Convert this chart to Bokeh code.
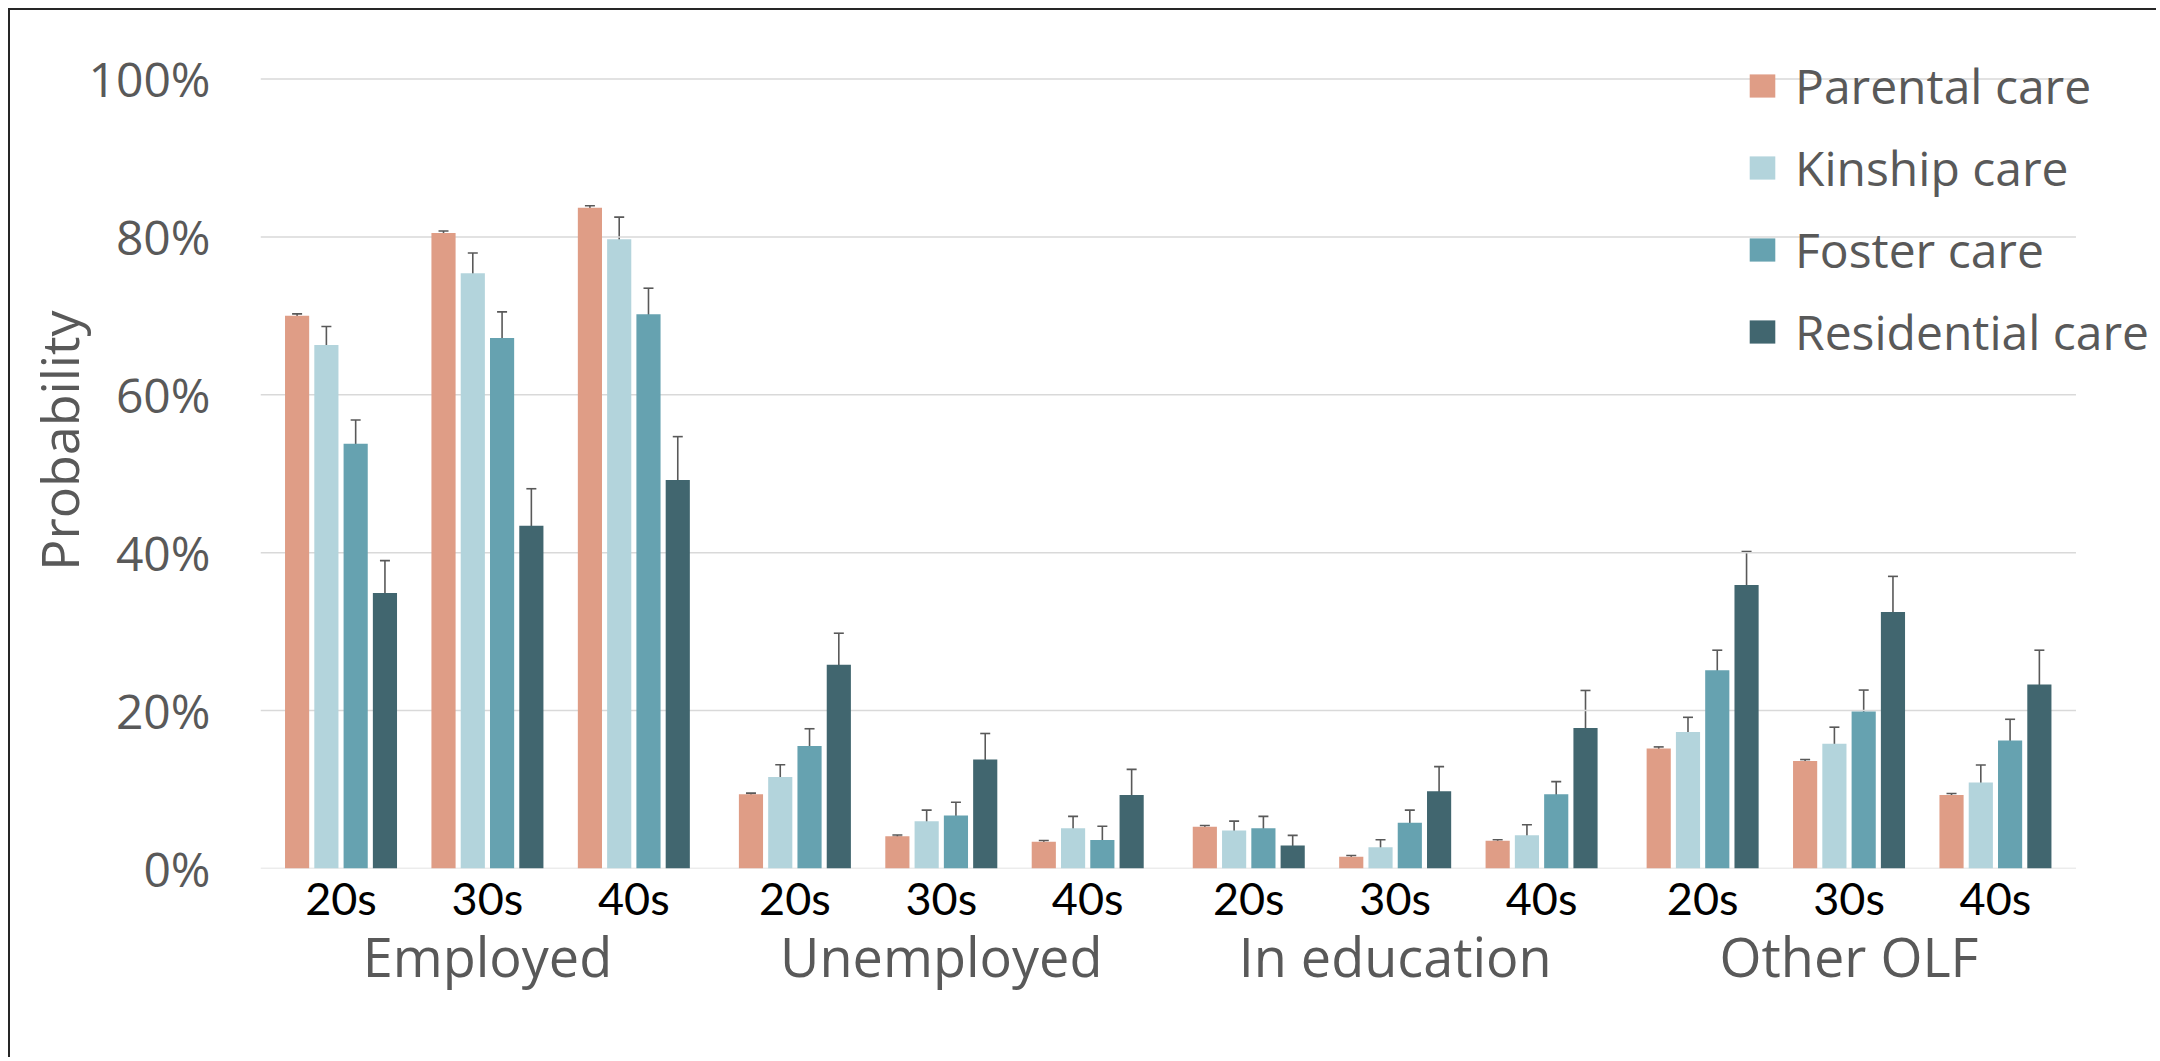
from bokeh.plotting import figure
from bokeh.models import (Range1d, FixedTicker, Legend, LegendItem, LinearAxis,
                          Whisker, TeeHead, ColumnDataSource, Title, PrintfTickFormatter)
from bokeh.transform import dodge
from bokeh.embed import file_html
from bokeh.resources import INLINE

# Labour-market status by age band, for each type of childhood care
statuses = ["Employed", "Unemployed", "In education", "Other OLF"]
ages = ["20s", "30s", "40s"]
care_types = ["Parental care", "Kinship care", "Foster care", "Residential care"]
colors = ["#df9d86", "#b3d4dc", "#66a2b0", "#41666f"]

# Probabilities (%) in order Employed 20s..40s, Unemployed, In education, Other OLF
parental = [70.0, 80.5, 83.7, 9.4, 4.1, 3.4, 5.3, 1.5, 3.5, 15.2, 13.6, 9.3]
kinship = [66.3, 75.4, 79.7, 11.6, 6.0, 5.1, 4.8, 2.7, 4.2, 17.3, 15.8, 10.9]
foster = [53.8, 67.2, 70.2, 15.5, 6.7, 3.6, 5.1, 5.8, 9.4, 25.1, 19.9, 16.2]
residential = [34.9, 43.4, 49.2, 25.8, 13.8, 9.3, 2.9, 9.8, 17.8, 35.9, 32.5, 23.3]

# Half-widths of the confidence intervals (%)
parental_err = [0.25, 0.25, 0.25, 0.15, 0.15, 0.15, 0.15, 0.15, 0.15, 0.2, 0.2, 0.2]
kinship_err = [2.35, 2.55, 2.8, 1.55, 1.4, 1.5, 1.2, 0.95, 1.35, 1.85, 2.1, 2.2]
foster_err = [3.0, 3.3, 3.3, 2.2, 1.7, 1.75, 1.5, 1.6, 1.6, 2.55, 2.7, 2.7]
residential_err = [4.1, 4.7, 5.5, 4.0, 3.3, 3.25, 1.3, 3.1, 4.75, 4.25, 4.5, 4.35]

y_ticks = [0, 20, 40, 60, 80, 100]

# Category slots: each age band is 10 units wide, with 1 unit extra between statuses
SLOT = 10
GROUP_STEP = len(ages) * SLOT + 1
positions = [g * GROUP_STEP + a * SLOT for g in range(len(statuses)) for a in range(len(ages))]
group_centers = [g * GROUP_STEP + SLOT * (len(ages) - 1) // 2 for g in range(len(statuses))]
age_labels = {pos: ages[i % len(ages)] for i, pos in enumerate(positions)}
status_labels = {c: s for c, s in zip(group_centers, statuses)}

series = [parental, kinship, foster, residential]
errors = [parental_err, kinship_err, foster_err, residential_err]
offsets = [-3, -1, 1, 3]
BAR_WIDTH = 1.65

GRAY = "#595959"
half_slot = SLOT * 0.55
x_start = min(positions) - half_slot
x_end = max(positions) + half_slot

p = figure(
    width=2148, height=1049,
    x_range=Range1d(x_start, x_end + 5.5),
    y_range=Range1d(0, 105),
    output_backend="svg", toolbar_location=None,
    min_border_left=250, min_border_top=29, min_border_right=2, min_border_bottom=191,
    styles={"margin-left": "8px", "margin-top": "8px",
            "border-left": "2px solid #262626", "border-top": "2px solid #262626"},
)
p.outline_line_color = None
p.background_fill_color = "white"
p.border_fill_color = "white"
p.xgrid.visible = False
p.ygrid.visible = False

# Horizontal gridlines spanning the category slots only
p.segment(x0=[x_start] * len(y_ticks), x1=[x_end] * len(y_ticks), y0=y_ticks, y1=y_ticks,
          line_color="#d9d9d9", line_width=1.5)

legend_items = []
for name, vals, errs, col, off in zip(care_types, series, errors, colors, offsets):
    src = ColumnDataSource(dict(
        x=positions, top=vals,
        upper=[v + e for v, e in zip(vals, errs)],
        lower=[v - e for v, e in zip(vals, errs)],
    ))
    r = p.vbar(x=dodge("x", off), top="top", bottom=0, width=BAR_WIDTH,
               source=src, fill_color=col, line_color=None)
    w = Whisker(base=dodge("x", off), upper="upper", lower="lower",
                source=src, line_color=GRAY, line_width=1.6,
                upper_head=TeeHead(size=10, line_color=GRAY, line_width=1.6),
                lower_head=TeeHead(size=10, line_color=GRAY, line_width=1.6))
    p.add_layout(w)
    legend_items.append(LegendItem(label=name, renderers=[r]))

# Y axis
p.yaxis.ticker = FixedTicker(ticks=y_ticks)
p.yaxis.formatter = PrintfTickFormatter(format="%d%%")
p.yaxis.axis_line_color = None
p.yaxis.major_tick_line_color = None
p.yaxis.minor_tick_line_color = None
p.yaxis.major_tick_out = 0
p.yaxis.major_label_text_font = "Open Sans"
p.yaxis.major_label_text_font_size = "48px"
p.yaxis.major_label_text_color = GRAY
p.yaxis.major_label_standoff = 50

# X axis: age bands
xa = p.xaxis[0]
xa.ticker = FixedTicker(ticks=positions)
xa.major_label_overrides = age_labels
xa.axis_line_color = None
xa.major_tick_line_color = None
xa.minor_tick_line_color = None
xa.major_tick_out = 0
xa.major_label_text_font = "Lato"
xa.major_label_text_font_size = "45px"
xa.major_label_text_color = "black"
xa.major_label_standoff = 2

# Second row: labour-market status
status_axis = LinearAxis(ticker=FixedTicker(ticks=group_centers),
                         major_label_overrides=status_labels,
                         axis_line_color=None, major_tick_line_color=None,
                         minor_tick_line_color=None, major_tick_out=0,
                         major_label_text_font="Open Sans",
                         major_label_text_font_size="54px",
                         major_label_text_color=GRAY, major_label_standoff=-9)
p.add_layout(status_axis, "below")

# Vertical axis title
p.add_layout(Title(text="Probability", align="right", offset=271, standoff=-16,
                   text_font="Open Sans", text_font_size="52px",
                   text_color=GRAY, text_font_style="normal"), "left")

legend = Legend(items=legend_items, location=(1486, 504),
                glyph_width=32, glyph_height=29, label_standoff=17,
                label_text_font="Open Sans", label_text_font_size="48px",
                label_text_color=GRAY, spacing=17, padding=0, margin=0,
                border_line_color=None, background_fill_alpha=0)
p.add_layout(legend)

open("out.html", "w").write(file_html(p, INLINE))
